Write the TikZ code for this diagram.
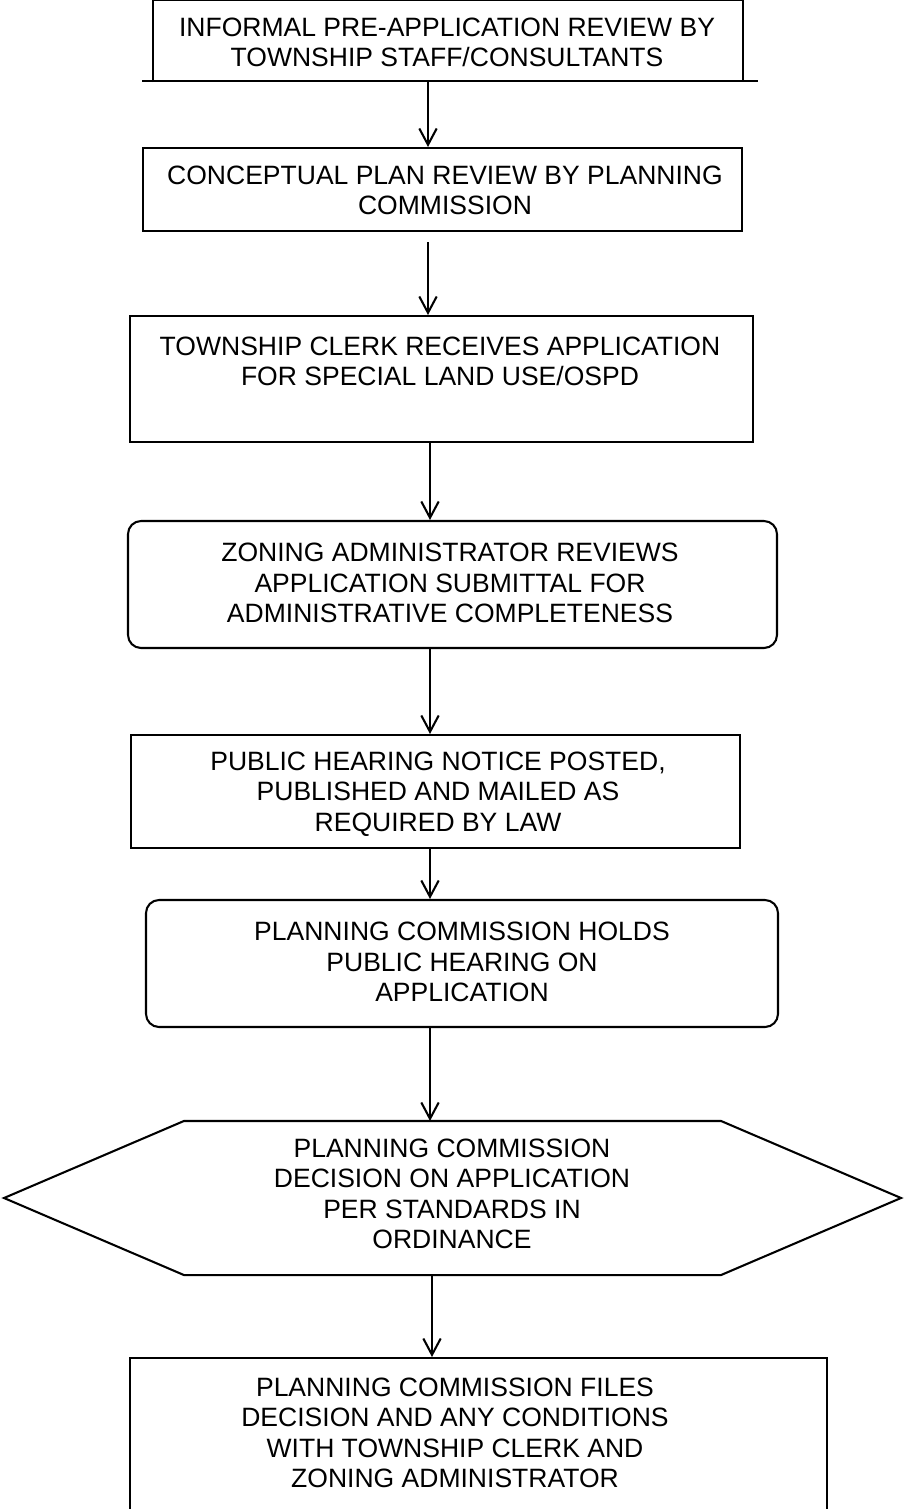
\documentclass[tikz,border=0pt]{standalone}
\usepackage{fontspec}
\setmainfont{Liberation Sans}
\usetikzlibrary{arrows.meta,fit}
\begin{document}
\begin{tikzpicture}[x=0.46pt,y=-0.46pt,
  line width=0.95pt,
  frame/.style={draw=black,inner sep=0pt},
  area/.style={inner sep=0pt},
  rframe/.style={draw=black,inner sep=0pt,rounded corners=6pt},
  txt/.style={align=center,inner sep=0pt,font=\fontsize{12.2pt}{14pt}\selectfont},
  arr/.style={-{Straight Barb[length=7.5pt,width=8pt,line width=0.95pt]}}
]
\useasboundingbox (0,0) rectangle (904,1509);
% box 1 (top edge at page top, bottom line extended)
\node[area,fit={(154,1) (742,81)}] (b1) {};
\draw (b1.south west) -- (b1.north west) -- (b1.north east) -- (b1.south east);
\coordinate (b1l) at (142,81);
\coordinate (b1r) at (758,81);
\draw (b1l) -- (b1r);
\node[txt] (t1) at (447,42.5) {INFORMAL PRE-APPLICATION REVIEW BY\\TOWNSHIP STAFF/CONSULTANTS};
% box 2
\node[frame,fit={(143,148) (742,231)}] (b2) {};
\node[txt] (t2) at (445,190.5) {CONCEPTUAL PLAN REVIEW BY PLANNING\\COMMISSION};
% box 3
\node[frame,fit={(130,316) (753,442)}] (b3) {};
\node[txt] (t3) at (440,361.5) {TOWNSHIP CLERK RECEIVES APPLICATION\\FOR SPECIAL LAND USE/OSPD};
% box 4 rounded
\node[rframe,fit={(128,521) (777,648)}] (b4) {};
\node[txt] (t4) at (450,583) {ZONING ADMINISTRATOR REVIEWS\\APPLICATION SUBMITTAL FOR\\ADMINISTRATIVE COMPLETENESS};
% box 5
\node[frame,fit={(131,735) (740,848)}] (b5) {};
\node[txt] (t5) at (438,794) {PUBLIC HEARING NOTICE POSTED,\\PUBLISHED AND MAILED AS\\REQUIRED BY LAW};
% box 6 rounded
\node[rframe,fit={(146,900) (778,1027)}] (b6) {};
\node[txt] (t6) at (462,962) {PLANNING COMMISSION HOLDS\\PUBLIC HEARING ON\\APPLICATION};
% hexagon
\node[area,fit={(185,1122) (720,1274)}] (d) {};
\coordinate (dl) at (4,1198);
\coordinate (dr) at (901,1198);
\draw (dl) -- (d.north west) -- (d.north east) -- (dr) -- (d.south east) -- (d.south west) -- cycle;
\node[txt] (t7) at (452,1194) {PLANNING COMMISSION\\DECISION ON APPLICATION\\PER STANDARDS IN\\ORDINANCE};
% box 8
\node[frame,fit={(130,1358) (827,1520)}] (b8) {};
\node[txt] (t8) at (455,1433) {PLANNING COMMISSION FILES\\DECISION AND ANY CONDITIONS\\WITH TOWNSHIP CLERK AND\\ZONING ADMINISTRATOR};
% arrows
\draw[arr] (b1.south -| 428,0) -- (b2.north -| 428,0);
\draw[arr] (b2.south -| 428,0) ++(0,10) -- (b3.north -| 428,0);
\draw[arr] (b3.south -| 430,0) -- (b4.north -| 430,0);
\draw[arr] (b4.south -| 430,0) -- (b5.north -| 430,0);
\draw[arr] (b5.south -| 430,0) -- (b6.north -| 430,0);
\draw[arr] (b6.south -| 430,0) -- (d.north -| 430,0);
\draw[arr] (d.south -| 432,0) -- (b8.north -| 432,0);
\end{tikzpicture}
\end{document}
